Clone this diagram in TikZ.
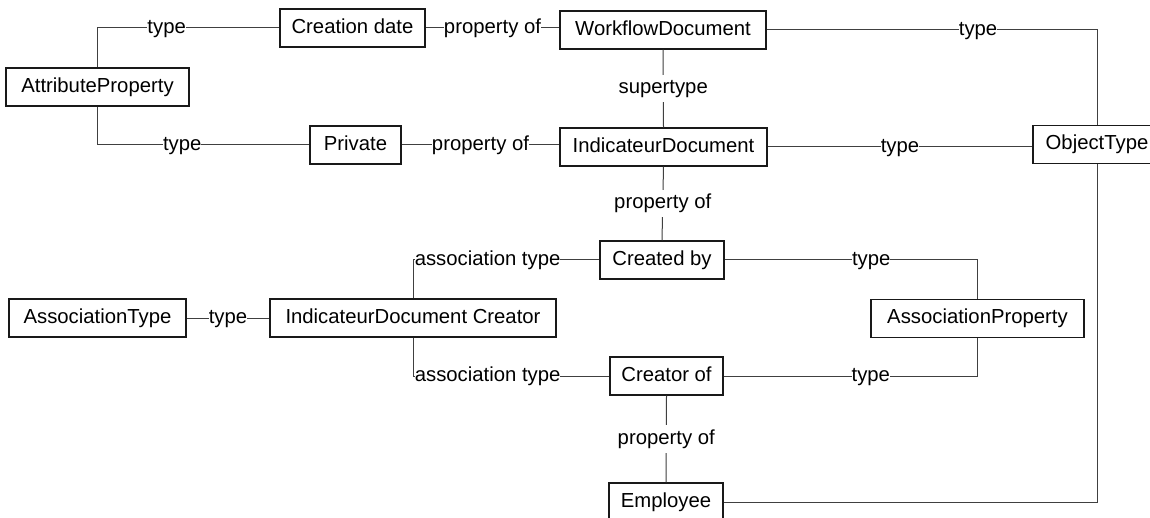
\documentclass[tikz,border=0pt]{standalone}
\usepackage{fontspec}
\setmainfont{Liberation Sans}
\begin{document}
\begin{tikzpicture}[x=1pt,y=-1pt,
  txt/.style={font=\fontsize{20.3}{24}\selectfont, text height=15.2pt, text depth=5.1pt},
  box/.style={txt, draw=black!90, line width=1.1pt, fill=white, minimum height=38pt, inner sep=0pt},
  lbl/.style={txt, fill=white, inner xsep=0pt, inner ysep=3.5pt},
  conn/.style={draw=black!75, line width=1pt}]
\clip (0,0) rectangle (1150,518);
\fill[white] (0,0) rectangle (1150,518);
% nodes
\node[box, minimum width=183pt] (ap)  at (97.5,87)   {AttributeProperty};
\node[box, minimum width=145pt] (cd)  at (352.5,28)  {Creation date};
\node[box, minimum width=206pt] (wd)  at (663,30)    {WorkflowDocument};
\node[box, minimum width=91pt]  (pr)  at (355.5,145) {Private};
\node[box, minimum width=207pt] (id)  at (663.5,147) {IndicateurDocument};
\node[box, minimum width=128pt] (ot)  at (1097,144.5) {ObjectType};
\node[box, minimum width=124pt] (cb)  at (662,260)   {Created by};
\node[box, minimum width=286pt] (idc) at (413,318)   {IndicateurDocument Creator};
\node[box, minimum width=177pt] (at)  at (97.5,318)  {AssociationType};
\node[box, minimum width=213pt] (asp) at (977.5,318.5) {AssociationProperty};
\node[box, minimum width=113pt] (co)  at (666.5,376) {Creator of};
\node[box, minimum width=114pt] (em)  at (666,502)   {Employee};
% connectors
\draw[conn] (ap.north) |- node[lbl, pos=0.69] {type} (cd.west);
\draw[conn] (ap.south) |- node[lbl, pos=0.70] {type} (pr.west);
\draw[conn] (cd.east) -- node[lbl] {property of} (cd.east -| wd.west);
\draw[conn] (wd.south) -- node[lbl] {supertype} (id.north);
\draw[conn] (pr.east) -- node[lbl] {property of} (pr.east -| id.west);
\draw[conn] (wd.east) -| node[lbl, pos=0.32] {type} (ot.north);
\draw[conn] (id.east) -- node[lbl] {type} (id.east -| ot.west);
\draw[conn] (id.south) -- node[lbl] {property of} (cb.north);
\draw[conn] (at.east) -- node[lbl] {type} (idc.west);
\draw[conn] (idc.north) |- node[lbl, pos=0.70] {association type} (cb.west);
\draw[conn] (idc.south) |- node[lbl, pos=0.69] {association type} (co.west);
\draw[conn] (cb.east) -| node[lbl, pos=0.29] {type} (asp.north);
\draw[conn] (co.east) -| node[lbl, pos=0.29] {type} (asp.south);
\draw[conn] (co.south) -- node[lbl] {property of} (em.north);
\draw[conn] (em.east) -| (ot.south);
\end{tikzpicture}
\end{document}
